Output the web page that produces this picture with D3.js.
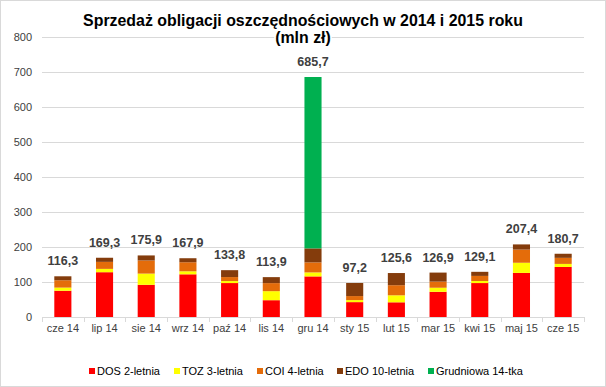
<!DOCTYPE html>
<html lang="pl">
<meta charset="utf-8">
<head>
  <title>Sprzedaż obligacji</title>
  <style>
  body { margin: 0; background: #fff; }
  svg { display: block; font-family: "Liberation Sans", Arial, sans-serif; }
  .grid line { stroke: #d9d9d9; shape-rendering: crispEdges; }
  .grid path { display: none; }
  .axis text { fill: #404040; font-size: 11px; }
  .axis path, .axis line { stroke: #d9d9d9; shape-rendering: crispEdges; }
  .total { fill: #404040; font-size: 12.5px; font-weight: bold; }
  .legend text { fill: #000; font-size: 11px; }
  .title { font-size: 15.9px; font-weight: bold; }
  </style>
</head>
<body>
<svg id="chart" width="606" height="387"></svg>
<script src="https://cdn.jsdelivr.net/npm/d3@7"></script>
<script>

var months = ["cze 14", "lip 14", "sie 14", "wrz 14", "paź 14", "lis 14", "gru 14",
              "sty 15", "lut 15", "mar 15", "kwi 15", "maj 15", "cze 15"];
var dos = [75, 128, 92, 122, 97, 48, 116, 42.5, 42, 72, 97, 126, 143];
var toz = [9, 9.5, 32, 8.6, 5.7, 25.8, 11.4, 5.8, 20, 11.6, 5.8, 29, 8.7];
var coi = [21, 20, 37.5, 25.8, 11.4, 23, 28.6, 11.5, 28.8, 17.4, 14.6, 37.6, 17.3];
var edo = [11.3, 11.8, 14.4, 11.5, 19.7, 17.1, 40, 37.4, 34.8, 25.9, 11.7, 14.8, 11.7];
var grudniowa = [0, 0, 0, 0, 0, 0, 489.7, 0, 0, 0, 0, 0, 0];
var totals = ["116,3", "169,3", "175,9", "167,9", "133,8", "113,9", "685,7",
              "97,2", "125,6", "126,9", "129,1", "207,4", "180,7"];
var seriesNames = ["DOS 2-letnia", "TOZ 3-letnia", "COI 4-letnia", "EDO 10-letnia", "Grudniowa 14-tka"];
var seriesColors = ["#ff0000", "#ffff00", "#e46c0a", "#843c0c", "#00b050"];
var yTicks = [0, 100, 200, 300, 400, 500, 600, 700, 800];

var svg = d3.select("#chart"),
    margin = {top: 37, right: 22, bottom: 70, left: 42},
    width = 606 - margin.left - margin.right,
    height = 387 - margin.top - margin.bottom;

// outer border
svg.append("rect")
    .attr("x", 0.5).attr("y", 0.5)
    .attr("width", 605).attr("height", 386)
    .attr("fill", "#fff").attr("stroke", "#d9d9d9");

var g = svg.append("g").attr("transform", "translate(" + margin.left + "," + margin.top + ")");

var x = d3.scaleBand().domain(months).range([0, width]).paddingInner(0.59).paddingOuter(0.295);
var xBand = d3.scaleBand().domain(months).range([0, width]);
var y = d3.scaleLinear().domain([0, 800]).range([height, 0]);

// gridlines
g.append("g")
    .attr("class", "grid")
    .call(d3.axisLeft(y).tickValues(yTicks).tickSize(-width).tickFormat(""));

// y axis labels
var yAxis = g.append("g")
    .attr("class", "axis")
    .call(d3.axisLeft(y).tickValues(yTicks).tickSize(0).tickPadding(10));
yAxis.select(".domain").remove();

// title (white box behind the second line hides the top gridline)
var titleBg = svg.append("rect").attr("fill", "#fff");
svg.append("text")
    .attr("class", "title")
    .attr("x", 303).attr("y", 26)
    .attr("text-anchor", "middle")
    .text("Sprzedaż obligacji oszczędnościowych w 2014 i 2015 roku");
var sub = svg.append("text")
    .attr("class", "title")
    .attr("x", 303).attr("y", 43)
    .attr("text-anchor", "middle")
    .text("(mln zł)");
var bb = sub.node().getBBox();
titleBg.attr("x", bb.x - 1).attr("y", bb.y).attr("width", bb.width + 2).attr("height", bb.height);

// stack
var table = months.map(function(m, i) {
  return {month: m, s0: dos[i], s1: toz[i], s2: coi[i], s3: edo[i], s4: grudniowa[i]};
});
var keys = ["s0", "s1", "s2", "s3", "s4"];
var stacked = d3.stack().keys(keys)(table);

g.selectAll(".serie")
  .data(stacked)
  .enter().append("g")
    .attr("class", "serie")
    .attr("fill", function(d, i) { return seriesColors[i]; })
  .selectAll("rect")
  .data(function(d) { return d; })
  .enter().append("rect")
    .attr("x", function(d) { return x(d.data.month); })
    .attr("y", function(d) { return y(d[1]); })
    .attr("width", x.bandwidth())
    .attr("height", function(d) { return y(d[0]) - y(d[1]); });

// x axis with ticks at band edges
var xAxis = g.append("g")
    .attr("class", "axis")
    .attr("transform", "translate(0," + height + ")")
    .call(d3.axisBottom(xBand).tickSize(0).tickPadding(7));
xAxis.select(".domain").attr("d", "M0,0.5H" + width);
var edges = months.map(function(m) { return xBand(m); }).concat([width]);
xAxis.selectAll(".edge")
  .data(edges)
  .enter().append("line")
    .attr("class", "edge")
    .attr("x1", function(d) { return Math.round(d) + 0.5; })
    .attr("x2", function(d) { return Math.round(d) + 0.5; })
    .attr("y1", 0).attr("y2", 5)
    .attr("stroke", "#d9d9d9");

// totals
g.selectAll(".total")
  .data(table)
  .enter().append("text")
    .attr("class", "total")
    .attr("x", function(d) { return x(d.month) + x.bandwidth() / 2; })
    .attr("y", function(d) { return y(d.s0 + d.s1 + d.s2 + d.s3 + d.s4) - 11; })
    .attr("text-anchor", "middle")
    .text(function(d, i) { return totals[i]; });

// legend
var legendX = [89, 174, 257, 337, 428];
var legend = svg.append("g").attr("class", "legend")
  .selectAll("g")
  .data(seriesNames)
  .enter().append("g")
    .attr("transform", function(d, i) { return "translate(" + legendX[i] + ",371)"; });
legend.append("rect")
    .attr("x", 0).attr("y", -3)
    .attr("width", 6).attr("height", 6)
    .attr("fill", function(d, i) { return seriesColors[i]; });
legend.append("text")
    .attr("x", 8).attr("dy", "0.35em")
    .text(function(d) { return d; });

</script>
</body>
</html>
